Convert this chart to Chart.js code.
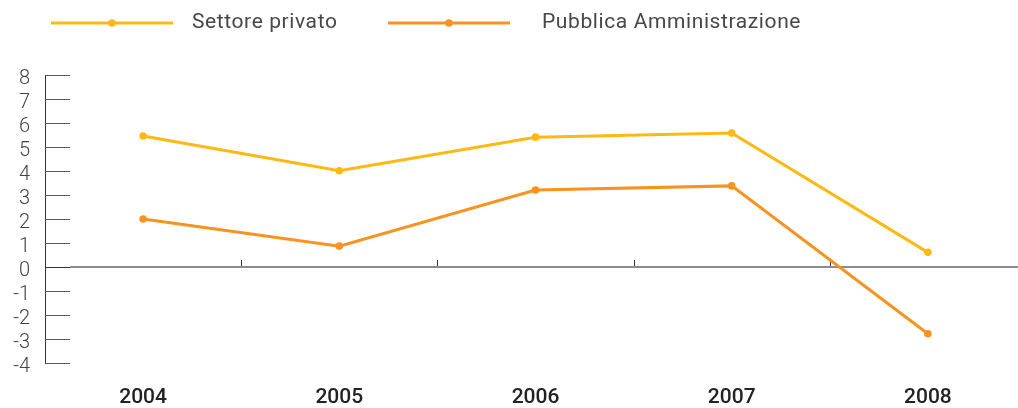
<!DOCTYPE html>
<html><head><meta charset="utf-8">
<script src="https://cdn.jsdelivr.net/npm/chart.js@4/dist/chart.umd.min.js"></script>
<style>
html,body{margin:0;padding:0;width:1018px;height:408px;overflow:hidden;background:#fff;}
#wrap{position:absolute;left:0;top:0;width:1030px;height:408px;}
#legend{position:absolute;left:0;top:0;}
</style></head><body>
<div id="wrap"><canvas id="c" width="1030" height="408"></canvas></div>
<svg id="legend" width="1018" height="46" xmlns="http://www.w3.org/2000/svg"></svg>
<script>
const categories = ['2004','2005','2006','2007','2008'];
const settorePrivato = [5.46, 4.01, 5.41, 5.58, 0.61];
const pubblicaAmm = [2.0, 0.87, 3.21, 3.38, -2.78];
const seriesNames = ['Settore privato', 'Pubblica Amministrazione'];
const seriesColors = ['#FDB913', '#F7931E'];
const yMin = -4, yMax = 8, yStep = 1;

// SVG legend (line with dot + label)
const legendPos = [{x0:51, x1:173, tx:192}, {x0:388, x1:510, tx:542}];
const svg = document.getElementById('legend');
const NS = 'http://www.w3.org/2000/svg';
seriesNames.forEach((name, i) => {
  const p = legendPos[i];
  const ln = document.createElementNS(NS, 'line');
  ln.setAttribute('x1', p.x0); ln.setAttribute('x2', p.x1);
  ln.setAttribute('y1', 23); ln.setAttribute('y2', 23);
  ln.setAttribute('stroke', seriesColors[i]); ln.setAttribute('stroke-width', 3);
  svg.appendChild(ln);
  const c = document.createElementNS(NS, 'circle');
  c.setAttribute('cx', (p.x0 + p.x1) / 2); c.setAttribute('cy', 23); c.setAttribute('r', 3.8);
  c.setAttribute('fill', seriesColors[i]);
  svg.appendChild(c);
  const t = document.createElementNS(NS, 'text');
  t.setAttribute('x', p.tx); t.setAttribute('y', 28);
  t.setAttribute('font-family', 'Roboto');
  t.setAttribute('font-size', '21');
  t.setAttribute('letter-spacing', '0.6');
  t.setAttribute('fill', '#474747');
  t.textContent = name;
  svg.appendChild(t);
});

const axisDecor = {
  id: 'axisDecor',
  beforeDatasetsDraw(chart) {
    const {ctx, chartArea, scales: {x, y}} = chart;
    ctx.save();
    ctx.lineWidth = 1;
    y.ticks.forEach(t => {
      const py = Math.round(y.getPixelForValue(t.value)) + 0.5;
      ctx.strokeStyle = t.value === 0 ? '#333' : '#555';
      ctx.beginPath(); ctx.moveTo(chartArea.left, py); ctx.lineTo(chartArea.left + 25, py); ctx.stroke();
    });
    const zy = y.getPixelForValue(0);
    ctx.strokeStyle = '#8c8c8c'; ctx.lineWidth = 2;
    ctx.beginPath(); ctx.moveTo(chartArea.left + 25, zy); ctx.lineTo(chartArea.right, zy); ctx.stroke();
    ctx.strokeStyle = '#333'; ctx.lineWidth = 1;
    for (let i = 0; i < categories.length - 1; i++) {
      const px = Math.round((x.getPixelForValue(i) + x.getPixelForValue(i + 1)) / 2) + 0.5;
      ctx.beginPath(); ctx.moveTo(px, zy - 7); ctx.lineTo(px, zy - 1); ctx.stroke();
    }
    ctx.restore();
  }
};

const mk = (label, data, color) => ({
  label, data,
  borderColor: color, backgroundColor: color,
  pointBackgroundColor: color, pointBorderColor: color,
  borderWidth: 3, pointRadius: 3.8, pointBorderWidth: 0,
  tension: 0, fill: false
});

new Chart(document.getElementById('c'), {
  type: 'line',
  data: {
    labels: categories,
    datasets: [mk(seriesNames[0], settorePrivato, seriesColors[0]), mk(seriesNames[1], pubblicaAmm, seriesColors[1])]
  },
  options: {
    responsive: false,
    animation: false,
    devicePixelRatio: 1,
    layout: {padding: {top: 75, right: 4, left: 0, bottom: 0}},
    plugins: {legend: {display: false}, tooltip: {enabled: false}},
    scales: {
      x: {
        type: 'category',
        offset: true,
        grid: {display: false, drawTicks: false},
        border: {display: false},
        ticks: {padding: 22, color: '#222', font: {family: 'Roboto', size: 21, weight: '500'}, maxRotation: 0},
        afterFit(s) { s.height = 45; }
      },
      y: {
        min: yMin, max: yMax,
        grid: {display: false, drawTicks: false},
        border: {display: true, color: '#333', width: 1},
        ticks: {stepSize: yStep, autoSkip: false, padding: 15, labelOffset: 4, color: '#444', font: {family: 'Roboto', size: 20, weight: '300'}},
        afterFit(s) { s.width = 45; }
      }
    }
  },
  plugins: [axisDecor]
});
</script>
</body></html>
